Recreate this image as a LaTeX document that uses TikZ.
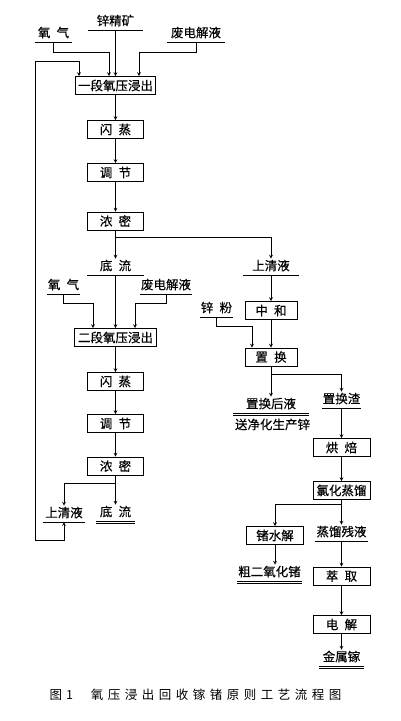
\documentclass[tikz,border=0pt]{standalone}
\usepackage{fontspec}
\setmainfont{Noto Sans CJK SC}
\newfontfamily\heavy{Noto Sans CJK SC}[FakeBold=0.3]
\usepackage{tikz}
\usetikzlibrary{arrows}

\tikzset{
  box/.style={draw, line width=0.9pt, minimum width=56pt, minimum height=18pt, inner sep=0pt},
  lbl/.style={anchor=south, inner xsep=0pt, inner ysep=2.5pt, text height=9pt, text depth=2pt,
    append after command={(\tikzlastnode.south west) edge[line width=0.8pt] (\tikzlastnode.south east)}},
  dlbl/.style={lbl,
    append after command={([yshift=-2pt]\tikzlastnode.south west) edge[line width=0.8pt] ([yshift=-2pt]\tikzlastnode.south east)}},
  arr/.style={line width=0.7pt, ->, >=stealth}
}

\begin{document}
\begin{tikzpicture}[x=1pt, y=-1pt, every node/.style={font=\heavy\fontsize{12.5pt}{14pt}\selectfont}]
\useasboundingbox (0,0) rectangle (401,721);

% left column
\node[lbl, minimum width=55pt] at (115.5,30) (znc) {锌精矿};
\node[lbl, minimum width=37pt] at (53.5,42) (o2a) {氧\enspace 气};
\node[lbl, minimum width=58pt] at (196,42) (spent1) {废电解液};
\node[box, minimum width=80pt] at (115.5,85.5) (leach1) {一段氧压浸出};
\node[box] at (115.5,129.5) (flash1) {闪\enspace 蒸};
\node[box] at (115.5,172.5) (adj1) {调\enspace 节};
\node[box] at (115.5,221) (thick1) {浓\enspace 密};
\node[lbl, minimum width=56pt] at (115.5,275) (under1) {底\enspace 流};
\node[lbl, minimum width=32pt] at (63.5,294) (o2b) {氧\enspace 气};
\node[lbl, minimum width=52pt] at (166,294) (spent2) {废电解液};
\node[box, minimum width=82pt] at (115.5,337.5) (leach2) {二段氧压浸出};
\node[box] at (115.5,381.5) (flash2) {闪\enspace 蒸};
\node[box] at (115.5,423.5) (adj2) {调\enspace 节};
\node[box] at (115.5,466) (thick2) {浓\enspace 密};
\node[lbl, minimum width=41pt] at (64,522) (over2) {上清液};
\node[dlbl, minimum width=38pt] at (115.5,521) (under2) {底\enspace 流};
\coordinate (ret) at (35,61);

% right column
\node[lbl, minimum width=55pt] at (271,275) (over1) {上清液};
\node[box, minimum width=52pt] at (271,310.5) (neut) {中\enspace 和};
\node[lbl, minimum width=33pt] at (216.5,317) (znpow) {锌\enspace 粉};
\node[box, minimum width=52pt] at (271,357) (cement) {置\enspace 换};
\node[dlbl, minimum width=75pt] at (271,413) (cemsol) {置换后液};
\node at (272.5,424.5) (dest) {送净化生产锌};
\node[lbl, minimum width=38pt] at (341.5,408) (cemres) {置换渣};
\node[box, minimum width=57pt] at (341.5,447.5) (roast) {烘\enspace 焙};
\node[box, minimum width=57pt] at (341.5,490.5) (chlor) {氯化蒸馏};
\node[box, minimum width=57pt] at (275,535.5) (hydro) {锗水解};
\node[lbl, minimum width=53pt] at (341.5,541) (residue) {蒸馏残液};
\node[dlbl, minimum width=65pt] at (269.5,581) (geo2) {粗二氧化锗};
\node[box, minimum width=57pt] at (341.5,576) (extr) {萃\enspace 取};
\node[box, minimum width=57pt] at (341.5,624.5) (elec) {电\enspace 解};
\node[dlbl, minimum width=44pt] at (341.5,666) (ga) {金属镓};

\node[anchor=west, font=\rmfamily\fontsize{12.5pt}{14pt}\selectfont\addfontfeature{LetterSpace=36}] at (46,695) (cap)
  {图\hspace{4pt}1\hspace{18pt}氧压浸出回收镓锗原则工艺流程图};

% connectors
\draw[arr] (o2a.south) -- ++(0,10) -| ([xshift=-6.5pt]leach1.north);
\draw[arr] (znc.south) -- (leach1.north);
\draw[arr] (spent1.south) -- ++(0,10) -| ([xshift=23.5pt]leach1.north);
\draw[arr, <->] (over2.south) -- ++(0,18) -| (ret) -| ([xshift=-36.5pt]leach1.north);
\draw[arr] (leach1) -- (flash1);
\draw[arr] (flash1) -- (adj1);
\draw[arr] (adj1) -- (thick1);
\draw[arr] (thick1.south) -- ++(0,7) -| (over1.north);
\draw[arr] (thick1) -- (under1);
\draw[arr] (under1.south) -- (leach2.north);
\draw[arr] (o2b.south) -- ++(0,9) -| ([xshift=-22.5pt]leach2.north);
\draw[arr] (spent2.south) -- ++(0,9) -| ([xshift=19.5pt]leach2.north);
\draw[arr] (leach2) -- (flash2);
\draw[arr] (flash2) -- (adj2);
\draw[arr] (adj2) -- (thick2);
\draw[arr] (thick2.south) -- ++(0,8) -| (over2.north);
\draw[arr] (thick2) -- (under2);
\draw[arr] (over1.south) -- (neut.north);
\draw[arr] (neut) -- (cement);
\draw[arr] (znpow.south) -- ++(0,9) -| ([xshift=-19pt]cement.north);
\draw[arr] (cement) -- (cemsol);
\draw[arr] (cement.south) -- ++(0,8) -| (cemres.north);
\draw[arr] (cemres.south) -- (roast.north);
\draw[arr] (roast) -- (chlor);
\draw[arr] (chlor.south) -- ++(0,4) -| (hydro.north);
\draw[arr] (chlor) -- (residue);
\draw[arr] (hydro.south) -- (hydro.south |- geo2.north);
\draw[arr] (residue.south) -- (extr.north);
\draw[arr] (extr) -- (elec);
\draw[arr] (elec) -- (ga);
\end{tikzpicture}
\end{document}
